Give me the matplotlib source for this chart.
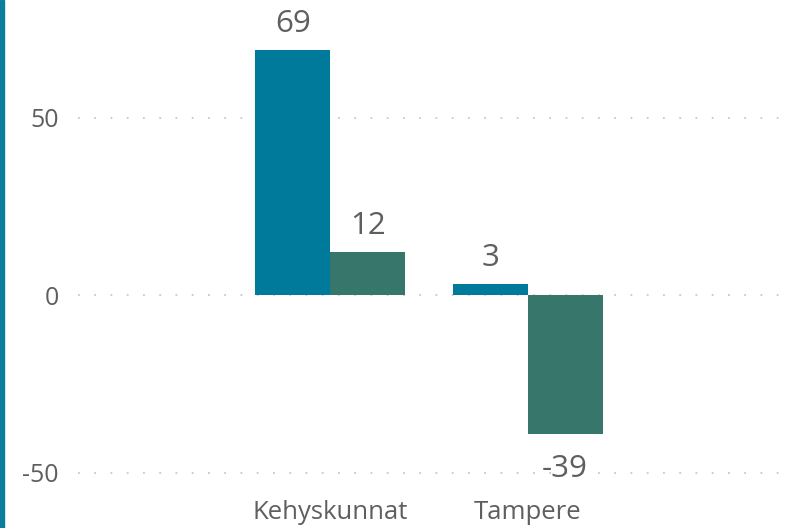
import numpy as np
import matplotlib.pyplot as plt
from matplotlib.patches import Rectangle

# Data
categories = ['Kehyskunnat', 'Tampere']
series_a = [69, 3]
series_b = [12, -39]
yticks = [-50, 0, 50]

color_a = '#007A9A'
color_b = '#37766B'
text_color = '#5F5F5F'

plt.rcParams['font.family'] = ['Open Sans', 'DejaVu Sans']

fig = plt.figure(figsize=(7.85, 5.28), dpi=100)
ax = fig.add_axes([78 / 785, 38 / 528, 702 / 785, 490 / 528])

x = np.arange(len(categories))
w = 0.38
bars_a = ax.bar(x - w / 2, series_a, width=w, color=color_a, zorder=3)
bars_b = ax.bar(x + w / 2, series_b, width=w, color=color_b, zorder=3)

ax.set_xlim(-1.28, 2.28)
ax.set_ylim(-54.9, 83.1)

# data labels
for bars in (bars_a, bars_b):
    for b in bars:
        v = b.get_height()
        cx = b.get_x() + b.get_width() / 2
        if v >= 0:
            ax.annotate(f'{v:g}', (cx, v), xytext=(0, 8), textcoords='offset points',
                        ha='center', va='bottom', fontsize=22.5, color=text_color)
        else:
            ax.annotate(f'{v:g}', (cx, v), xytext=(0, -15), textcoords='offset points',
                        ha='center', va='top', fontsize=22.5, color=text_color)

ax.set_yticks(yticks)
ax.set_yticklabels([str(t) for t in yticks])
ax.set_xticks(x)
ax.set_xticklabels(categories)
ax.tick_params(axis='y', length=0, pad=14, labelsize=18, labelcolor=text_color)
ax.tick_params(axis='x', length=0, pad=7, labelsize=18.5, labelcolor=text_color)

ax.grid(axis='y', color='#C8C8C8', linestyle=(0, (1, 8)), linewidth=1.3, zorder=0)
for s in ax.spines.values():
    s.set_visible(False)

# teal left border
fig.add_artist(Rectangle((0, 0), 4 / 785, 1, transform=fig.transFigure,
                         color='#0B7E9C', zorder=10))

fig.savefig('out.png', dpi=100)
